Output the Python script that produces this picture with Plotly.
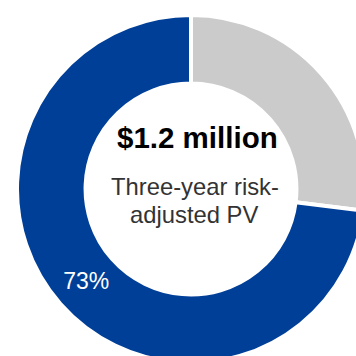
import plotly.graph_objects as go

labels = ["Other", "Benefit"]
values = [27, 73]
colors = ["#CBCBCB", "#003F98"]
slice_text = ["", "73%"]

headline = "$1.2 million"
sub_line1 = "Three-year risk-"
sub_line2 = "adjusted PV"

W, H = 365, 363
L, T = 17, 15
S = 348  # square plot side

def px(x):
    return (x - L) / S

def py(y):
    return 1 - (y - T) / S

fig = go.Figure(go.Pie(
    labels=labels,
    values=values,
    hole=0.606,
    sort=False,
    direction="clockwise",
    rotation=0,
    marker=dict(colors=colors, line=dict(color="white", width=4)),
    text=slice_text,
    textinfo="text",
    textposition="inside",
    insidetextorientation="horizontal",
    insidetextfont=dict(family="Liberation Sans, Arial", size=23, color="white"),
    showlegend=False,
    hoverinfo="label+percent",
))

fig.add_annotation(x=px(197.5), y=py(137.5), xref="paper", yref="paper", text="<b>" + headline + "</b>",
                   showarrow=False, xanchor="center", yanchor="middle",
                   font=dict(family="Liberation Sans, Arial", size=29.5, color="#000000"))
fig.add_annotation(x=px(195), y=py(186.5), xref="paper", yref="paper", text=sub_line1,
                   showarrow=False, xanchor="center", yanchor="middle",
                   font=dict(family="Liberation Sans, Arial", size=23.8, color="#333333"))
fig.add_annotation(x=px(194), y=py(214.5), xref="paper", yref="paper", text=sub_line2,
                   showarrow=False, xanchor="center", yanchor="middle",
                   font=dict(family="Liberation Sans, Arial", size=23.8, color="#333333"))

fig.update_layout(
    width=W, height=H,
    margin=dict(l=L, r=0, t=T, b=0, pad=0),
    paper_bgcolor="white", plot_bgcolor="white",
)

fig.write_html("out.html", post_script="document.documentElement.style.overflow='hidden';document.body.style.overflow='hidden';document.body.style.margin='0';")
